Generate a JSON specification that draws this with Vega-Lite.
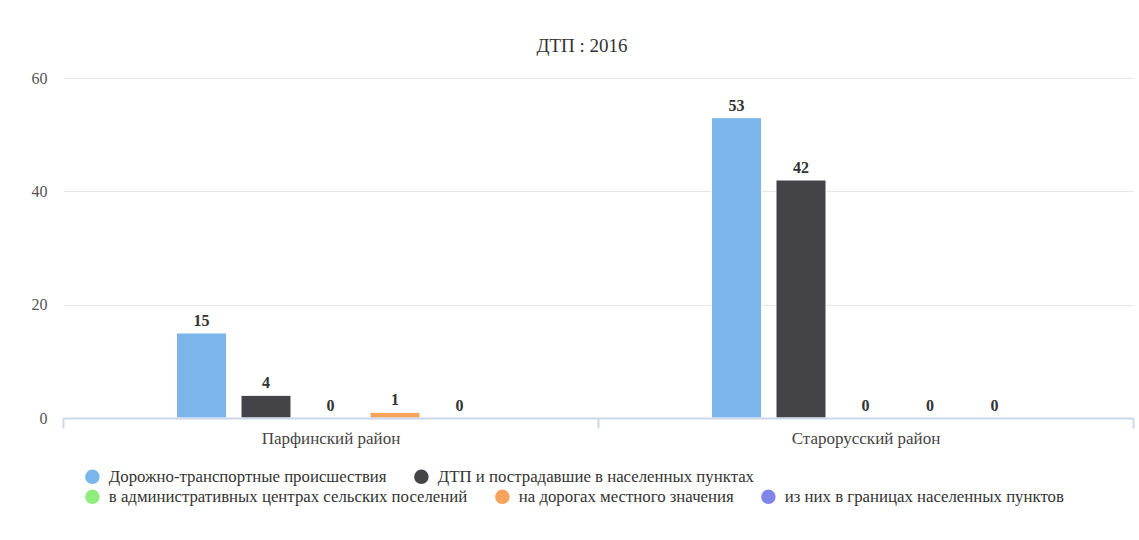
{
  "$schema": "https://vega.github.io/schema/vega-lite/v6.json",
  "width": 1070,
  "height": 340,
  "autosize": {"type": "none"},
  "padding": {"left": 63, "top": 78, "right": 6, "bottom": 122},
  "background": "#ffffff",
  "title": {
    "text": "ДТП : 2016",
    "frame": "group",
    "anchor": "middle",
    "dx": -16,
    "offset": 14,
    "font": "Liberation Serif",
    "fontSize": 19,
    "fontWeight": "normal",
    "color": "#333333"
  },
  "data": {
    "values": [
      {"district": "Парфинский район", "series": "Дорожно-транспортные происшествия", "value": 15},
      {"district": "Парфинский район", "series": "ДТП и пострадавшие в населенных пунктах", "value": 4},
      {"district": "Парфинский район", "series": "в административных центрах сельских поселений", "value": 0},
      {"district": "Парфинский район", "series": "на дорогах местного значения", "value": 1},
      {"district": "Парфинский район", "series": "из них в границах населенных пунктов", "value": 0},
      {"district": "Старорусский район", "series": "Дорожно-транспортные происшествия", "value": 53},
      {"district": "Старорусский район", "series": "ДТП и пострадавшие в населенных пунктах", "value": 42},
      {"district": "Старорусский район", "series": "в административных центрах сельских поселений", "value": 0},
      {"district": "Старорусский район", "series": "на дорогах местного значения", "value": 0},
      {"district": "Старорусский район", "series": "из них в границах населенных пунктов", "value": 0}
    ]
  },
  "encoding": {
    "x": {
      "field": "district",
      "type": "nominal",
      "sort": null,
      "title": null,
      "scale": {"paddingInner": 0, "paddingOuter": 0},
      "axis": {
        "labelAngle": 0,
        "tickBand": "extent",
        "ticks": true,
        "tickSize": 10,
        "tickWidth": 2,
        "tickColor": "#ccd6eb",
        "domainColor": "#ccd6eb",
        "domainWidth": 2,
        "labelPadding": 2,
        "labelFont": "Liberation Serif",
        "labelFontSize": 17,
        "labelColor": "#444444",
        "grid": false,
        "zindex": 1
      }
    },
    "xOffset": {
      "field": "series",
      "type": "nominal",
      "sort": null,
      "scale": {
        "domain": ["pad_left", "Дорожно-транспортные происшествия", "ДТП и пострадавшие в населенных пунктах", "в административных центрах сельских поселений", "на дорогах местного значения", "из них в границах населенных пунктов", "pad_right"],
        "paddingInner": 0.225,
        "paddingOuter": 0.76
      }
    },
    "y": {
      "field": "value",
      "type": "quantitative",
      "title": null,
      "scale": {"domain": [0, 60], "nice": false},
      "axis": {
        "values": [0, 20, 40, 60],
        "domain": false,
        "ticks": false,
        "tickSize": 0,
        "labelPadding": 16,
        "labelFont": "Liberation Serif",
        "labelFontSize": 16,
        "labelColor": "#555555",
        "gridColor": "#e6e6e6",
        "gridWidth": 1
      }
    }
  },
  "layer": [
    {
      "transform": [{"filter": {"field": "series", "oneOf": ["Дорожно-транспортные происшествия", "ДТП и пострадавшие в населенных пунктах"]}}],
      "mark": {"type": "bar", "stroke": "#ffffff", "strokeWidth": 1},
      "encoding": {
        "color": {
          "field": "series",
          "type": "nominal",
          "sort": null,
          "scale": {
            "domain": ["Дорожно-транспортные происшествия", "ДТП и пострадавшие в населенных пунктах"],
            "range": ["#7cb5ec", "#434348"]
          },
          "legend": {
            "title": null,
            "orient": "none",
            "direction": "horizontal",
            "legendX": 21,
            "legendY": 390
          }
        }
      }
    },
    {
      "transform": [{"filter": {"field": "series", "oneOf": ["в административных центрах сельских поселений", "на дорогах местного значения", "из них в границах населенных пунктов"]}}],
      "mark": {"type": "bar", "stroke": "#ffffff", "strokeWidth": 1},
      "encoding": {
        "color": {
          "field": "series",
          "type": "nominal",
          "sort": null,
          "scale": {
            "domain": ["в административных центрах сельских поселений", "на дорогах местного значения", "из них в границах населенных пунктов"],
            "range": ["#90ed7d", "#f7a35c", "#8085e9"]
          },
          "legend": {
            "title": null,
            "orient": "none",
            "direction": "horizontal",
            "legendX": 21,
            "legendY": 410
          }
        }
      }
    },
    {
      "mark": {
        "type": "text",
        "font": "Liberation Serif",
        "fontSize": 16,
        "fontWeight": "bold",
        "baseline": "middle",
        "dy": -12,
        "color": "#333333"
      },
      "encoding": {
        "text": {"field": "value", "type": "quantitative"}
      }
    }
  ],
  "resolve": {"scale": {"color": "independent"}, "legend": {"color": "independent"}},
  "config": {
    "view": {"stroke": null},
    "legend": {
      "labelFont": "Liberation Serif",
      "labelFontSize": 16.8,
      "labelColor": "#333333",
      "labelLimit": 0,
      "symbolType": "circle",
      "symbolSize": 210,
      "symbolStrokeWidth": 0,
      "symbolOpacity": 1,
      "labelOffset": 8,
      "columnPadding": 26
    }
  }
}
